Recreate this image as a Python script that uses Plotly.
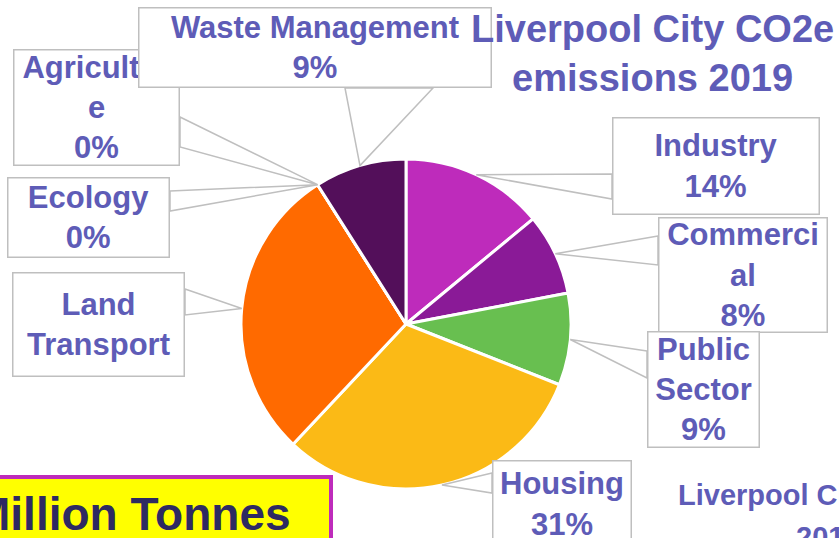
import math

import plotly.graph_objects as go

W, H = 839, 538

# --- data (clockwise from 12 o'clock) ---
sectors = [
    "Industry", "Commercial", "Public Sector", "Housing",
    "Land Transport", "Ecology", "Agriculture", "Waste Management",
]
shares = [14, 8, 9, 31, 29, 0, 0, 9]
box_text = [
    "Industry", "Commerci<br>al", "Public<br>Sector", "Housing",
    "Land<br>Transport", "Ecology", "Agricultur<br>e", "Waste Management",
]
show_pct = [True, True, True, True, False, True, True, True]

colors = ["#BE2BBB", "#8A1A97", "#68BF50", "#FBBA16",
          "#FF6A00", "#7F7F7F", "#5B9BD5", "#530F5A"]
TXT = "#5E5CB7"
FONT = "Liberation Sans, Arial, sans-serif"

# pie geometry in pixels
CX, CY, R = 406, 324, 165

# callout boxes in pixels: x0, y0, x1, y1, wedge base (two points on the box edge)
boxes = {
    "Industry": (612, 117, 820, 215, (612, 174), (612, 199)),
    "Commercial": (658, 217, 828, 333, (658, 236), (658, 265)),
    "Public Sector": (647, 331, 760, 448, (647, 351), (647, 378)),
    "Housing": (492, 460, 632, 548, (492, 473), (492, 493)),
    "Land Transport": (12, 272, 185, 377, (185, 289), (185, 315)),
    "Ecology": (7, 177, 170, 258, (170, 191), (170, 211)),
    "Agriculture": (13, 49, 180, 166, (180, 117), (180, 147)),
    "Waste Management": (138, 7, 492, 88, (345, 88), (433, 88)),
}


def px(x):
    return x / W


def py(y):
    return 1 - y / H


fig = go.Figure(
    go.Pie(
        labels=sectors,
        values=shares,
        sort=False,
        direction="clockwise",
        rotation=0,
        textinfo="none",
        hoverinfo="label+percent",
        marker=dict(colors=colors, line=dict(color="#ffffff", width=3)),
        domain=dict(x=[px(CX - R), px(CX + R)], y=[py(CY + R), py(CY - R)]),
        showlegend=False,
    )
)

total = sum(shares)
shapes = []
annotations = []
cum = 0
for name, val, txt, pct in zip(sectors, shares, box_text, show_pct):
    mid = (cum + val / 2) / total * 2 * math.pi
    cum += val
    ax = CX + R * math.sin(mid)
    ay = CY - R * math.cos(mid)
    x0, y0, x1, y1, b1, b2 = boxes[name]
    shapes.append(dict(
        type="path", xref="paper", yref="paper",
        path=f"M {px(b1[0])},{py(b1[1])} L {px(ax)},{py(ay)} L {px(b2[0])},{py(b2[1])} Z",
        fillcolor="#ffffff", line=dict(color="#BFBFBF", width=1.5), layer="above",
    ))
    label = txt + (f"<br>{val / total:.0%}" if pct else "")
    annotations.append(dict(
        text=label, xref="paper", yref="paper",
        x=px(x0), y=py(y0), xanchor="left", yanchor="top",
        width=x1 - x0 - 3, height=y1 - y0 - 3, align="center", valign="middle",
        showarrow=False, bgcolor="#ffffff", bordercolor="#BFBFBF",
        borderwidth=1.5, borderpad=0,
        font=dict(family=FONT, size=31, color=TXT, weight="bold"),
    ))

# yellow "Million Tonnes" box
shapes.append(dict(
    type="rect", xref="paper", yref="paper",
    x0=-0.02, x1=px(331), y0=-0.05, y1=py(477),
    fillcolor="#FFFF00", line=dict(color="#BE2BBB", width=4), layer="above",
))
annotations.append(dict(
    text="Million Tonnes", xref="paper", yref="paper", x=px(293), y=py(514),
    xanchor="right", yanchor="middle", showarrow=False,
    font=dict(family=FONT, size=46, color="#2E2A62", weight="bold"),
))

# title
annotations.append(dict(
    text="Liverpool City CO2e<br>emissions 2019", xref="paper", yref="paper",
    x=px(652), y=py(6), xanchor="center", yanchor="top", showarrow=False,
    font=dict(family=FONT, size=38, color=TXT, weight="bold"),
))

# cut-off caption bottom right
annotations.append(dict(
    text="Liverpool City Council", xref="paper", yref="paper", x=px(676), y=py(495),
    xanchor="left", yanchor="middle", showarrow=False,
    font=dict(family=FONT, size=29, color=TXT, weight="bold"),
))
annotations.append(dict(
    text="2019", xref="paper", yref="paper", x=px(794), y=py(537),
    xanchor="left", yanchor="middle", showarrow=False,
    font=dict(family=FONT, size=29, color=TXT, weight="bold"),
))

fig.update_layout(
    width=W, height=H,
    margin=dict(l=0, r=0, t=0, b=0),
    paper_bgcolor="#ffffff",
    plot_bgcolor="#ffffff",
    shapes=shapes,
    annotations=annotations,
)

fig.write_html(
    "out.html",
    config={"displayModeBar": False},
    post_script="document.body.style.margin='0';",
)
